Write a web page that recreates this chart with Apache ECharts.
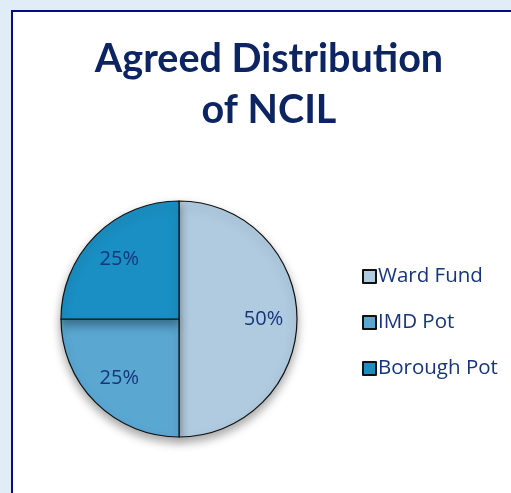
<!DOCTYPE html>
<html>
<head>
<meta charset="utf-8">
<script src="https://cdn.jsdelivr.net/npm/echarts@6/dist/echarts.min.js"></script>
<style>
html,body{margin:0;padding:0;background:#e1edf6;}
#c{width:511px;height:493px;}
</style>
</head>
<body>
<div id="c"></div>
<script>
const categories = ['Ward Fund', 'IMD Pot', 'Borough Pot'];
const values = [50, 25, 25];
const colors = ['#b0cbe0', '#5aa7d2', '#1a8fc3'];

const chart = echarts.init(document.getElementById('c'));
const FONT = 'Lato';
const data = categories.map((n, i) => ({ name: n, value: values[i], itemStyle: { color: colors[i] } }));

chart.setOption({
  backgroundColor: '#e1edf6',
  animation: false,
  graphic: [{
    type: 'rect', z: -10,
    shape: { x: 12, y: 11, width: 520, height: 500 },
    style: { fill: '#ffffff', stroke: '#0b0b7d', lineWidth: 2 }
  }],
  title: {
    text: 'Agreed Distribution\nof NCIL',
    left: 264, top: 29, textAlign: 'center',
    textStyle: { fontFamily: FONT, fontWeight: 'bold', fontSize: 39.5, color: '#0c2461', lineHeight: 51 }
  },
  legend: {
    orient: 'vertical', left: 357, top: 261,
    icon: 'rect', itemWidth: 13, itemHeight: 13, itemGap: 25,
    textStyle: { fontFamily: 'Open Sans', fontSize: 20.5, color: '#16357a', padding: [0, 0, 0, -3] },
    data: categories
  },
  series: [{
    type: 'pie', center: [179, 319], radius: [0, 118],
    startAngle: 90, clockwise: true,
    label: { show: false }, labelLine: { show: false },
    itemStyle: { borderColor: '#111', borderWidth: 1.2, shadowBlur: 10, shadowOffsetY: 5, shadowColor: 'rgba(0,0,0,0.35)' },
    emphasis: { disabled: true },
    data: data
  }, {
    type: 'pie', center: [179, 319], radius: [0, 163],
    startAngle: 90, clockwise: true, silent: true, z: 5,
    itemStyle: { color: 'rgba(0,0,0,0)', borderWidth: 0 },
    label: { show: true, position: 'inside', formatter: '{d}%', fontFamily: 'Open Sans', fontSize: 20, color: '#16357a' },
    labelLine: { show: false },
    emphasis: { disabled: true },
    data: categories.map((n, i) => ({ name: n, value: values[i], itemStyle: { color: 'rgba(0,0,0,0)' } }))
  }]
});
</script>
</body>
</html>
